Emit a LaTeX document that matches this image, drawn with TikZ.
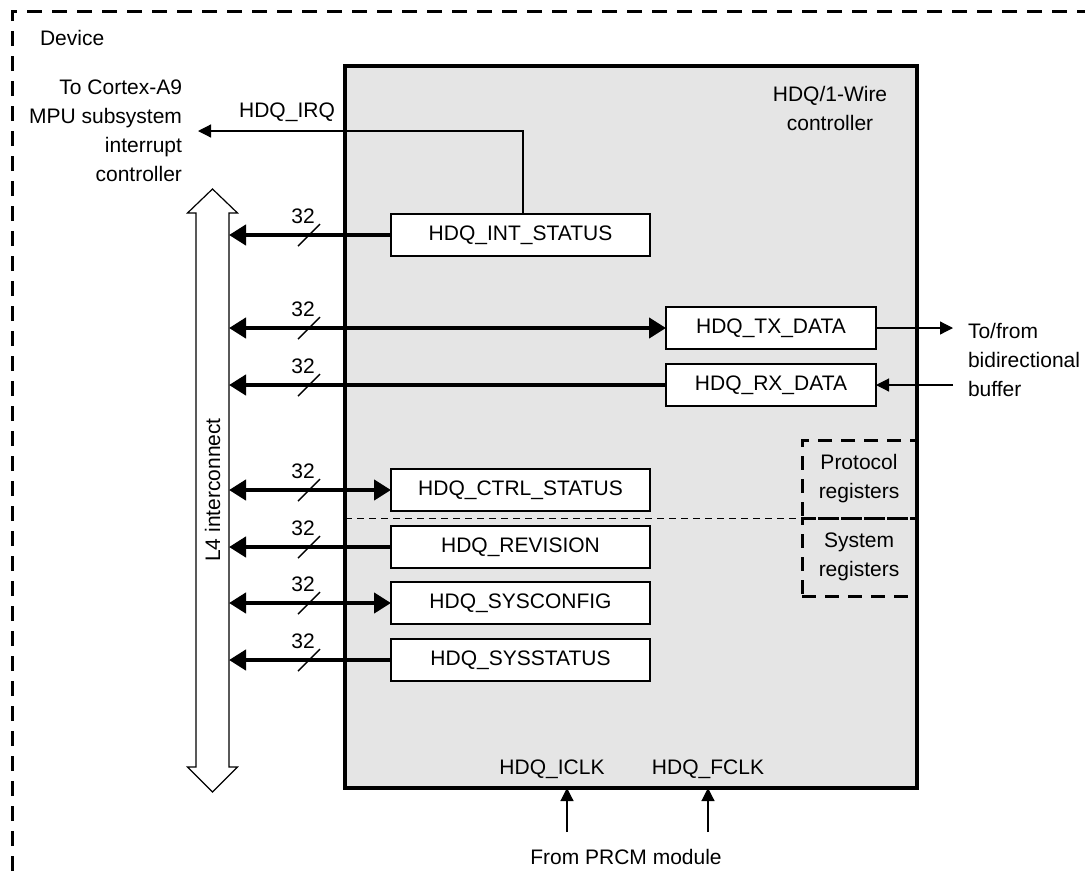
\documentclass[tikz,border=0pt]{standalone}
\usepackage{fontspec}
\setmainfont{Liberation Sans}
\usetikzlibrary{arrows.meta}
\begin{document}
\begin{tikzpicture}[x=1pt,y=-1pt,
  every node/.style={font=\fontsize{21}{29}\selectfont, inner sep=0pt, outer sep=0pt},
  block/.style={draw, line width=3.5pt, fill=black!10, minimum width=572pt, minimum height=722pt},
  reg/.style={draw, line width=2.5pt, fill=white, minimum width=259pt, minimum height=42pt},
  dreg/.style={reg, minimum width=210pt},
  group/.style={draw, line width=3pt, dash pattern=on 14pt off 9pt, minimum width=114pt, minimum height=78pt, align=center},
  bus/.style={line width=4.5pt},
  busr/.style={bus, -{Triangle[length=17pt,width=20pt]}},
  busb/.style={bus, {Triangle[length=17pt,width=20pt]}-{Triangle[length=17pt,width=20pt]}},
  sig/.style={line width=1.2pt, -{Triangle[length=13pt,width=13pt]}},
  slash/.style={line width=1.4pt},
  frame/.style={line width=3pt, dash pattern=on 15pt off 10pt},
]
\useasboundingbox (0,0) rectangle (1091,871);
% device frame
\coordinate (fr0) at (12,871);
\coordinate (fr1) at (12,11);
\coordinate (fr2) at (1085,11);
\draw[frame] (fr0) -- (fr1) -- (fr2);
\node[anchor=west] (dev) at (40,38) {Device};

% main block
\node[block] (hdq) at (631,427) {};
\node[align=center] (hdqlbl) at (830,108) {HDQ/1-Wire\\controller};

% registers
\node[reg] (int) at (520.5,235) {HDQ\_INT\_STATUS};
\node[dreg] (tx) at (771,328) {HDQ\_TX\_DATA};
\node[dreg] (rx) at (771,385) {HDQ\_RX\_DATA};
\node[reg] (ctl) at (520.5,490) {HDQ\_CTRL\_STATUS};
\node[reg] (rev) at (520.5,547) {HDQ\_REVISION};
\node[reg] (cfg) at (520.5,603) {HDQ\_SYSCONFIG};
\node[reg] (sst) at (520.5,660) {HDQ\_SYSSTATUS};

% group boxes
\node[group] (proto) at (859,479) {Protocol\\registers};
\node[group] (sys) at (859,557) {System\\registers};
\draw[line width=1pt, dash pattern=on 7pt off 5pt] (hdq.west |- proto.south) -- (proto.south west);

% L4 interconnect hollow double arrow
\node[minimum width=33pt, minimum height=554pt] (l4) at (212.5,490) {};
\draw[line width=1.2pt, fill=white]
  (212.5,189) -- (237.5,213) -- (l4.north east) -- (l4.south east) -- (237.5,767)
  -- (212.5,792) -- (187.5,767) -- (l4.south west) -- (l4.north west) -- (187.5,213) -- cycle;
\node[rotate=90] (l4lbl) at (l4.center) {L4 interconnect};

% buses
\draw[busr] (int.west) -- (l4.east |- int.west);
\draw[busb] (l4.east |- tx.west) -- (tx.west);
\draw[busr] (rx.west) -- (l4.east |- rx.west);
\draw[busb] (l4.east |- ctl.west) -- (ctl.west);
\draw[busr] (rev.west) -- (l4.east |- rev.west);
\draw[busb] (l4.east |- cfg.west) -- (cfg.west);
\draw[busr] (sst.west) -- (l4.east |- sst.west);
\foreach \b in {int,tx,rx,ctl,rev,cfg,sst}{
  \path (l4.east |- \b.west) ++(80,0) coordinate (s\b);
  \draw[slash] ([shift={(-11,11)}]s\b) -- ([shift={(11,-11)}]s\b);
  \node at ([shift={(-6,-19)}]s\b) {32};
}

% interrupt
\coordinate (irqend) at (198,131);
\draw[sig] ([xshift=2.5pt]int.north) |- (irqend);
\node (irqlbl) at (287,112) {HDQ\_IRQ};
\node[anchor=east, align=right] (cortex) at (182,131) {To Cortex-A9\\MPU subsystem\\interrupt\\controller};

% buffer side
\coordinate (txout) at (953,328);
\coordinate (rxin) at (953,385);
\draw[sig] (tx.east) -- (txout);
\draw[sig] (rxin) -- (rx.east);
\node[anchor=west, align=left] (buf) at (968,360) {To/from\\bidirectional\\buffer};

% clocks
\node (iclk) at (552,769) {HDQ\_ICLK};
\node (fclk) at (708,769) {HDQ\_FCLK};
\coordinate (iclkin) at (567,832);
\coordinate (fclkin) at (708,832);
\draw[sig] (iclkin) -- (iclkin |- hdq.south);
\draw[sig] (fclkin) -- (fclkin |- hdq.south);
\node (prcm) at (626,857) {From PRCM module};
\end{tikzpicture}
\end{document}
